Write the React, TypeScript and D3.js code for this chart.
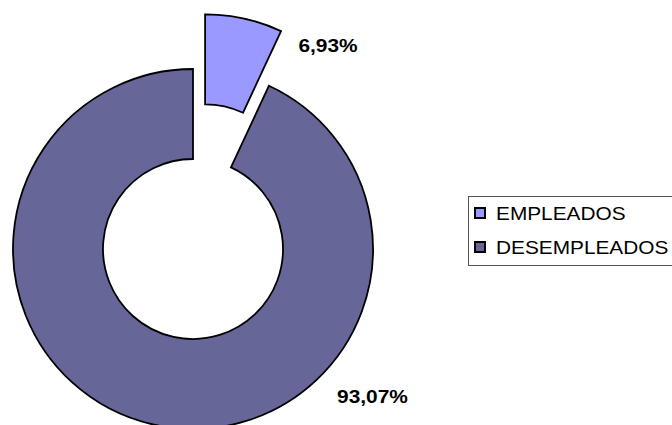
import React, { useEffect, useRef } from "react";
import * as d3 from "d3";

// datos del gráfico
const categories = ["EMPLEADOS", "DESEMPLEADOS"];
const values = [6.93, 93.07];
const labels = ["6,93%", "93,07%"];
const colors = ["#9999FF", "#666699"];

const W = 672;
const H = 425;
const cx = 193;          // centro del anillo
const cy = 249;
const outerR = 180;
const innerR = 90;
const explode = 56;      // desplazamiento de la porción separada

// posición de las etiquetas relativa al centro (colocación "best fit")
const labelOffsets = [[135, -204], [179.5, 147]];

export default function App() {
    const svgRef = useRef<SVGSVGElement | null>(null);

    useEffect(() => {
        const svg = d3.select(svgRef.current);
        svg.selectAll("*").remove();

        const pie = d3.pie<number>().sort(null).value((d) => d);
        const arcs = pie(values);
        const arc = d3.arc<d3.PieArcDatum<number>>().innerRadius(innerR).outerRadius(outerR);

        const g = svg.append("g").attr("transform", `translate(${cx},${cy})`);

        // porciones
        g.selectAll("path.slice")
            .data(arcs)
            .join("path")
            .attr("class", "slice")
            .attr("d", (d) => arc(d))
            .attr("transform", (d, i) => {
                if (i !== 0) return null;
                const mid = (d.startAngle + d.endAngle) / 2;
                return `translate(${Math.sin(mid) * explode},${-Math.cos(mid) * explode})`;
            })
            .attr("fill", (d, i) => colors[i])
            .attr("stroke", "#000")
            .attr("stroke-width", 1.8)
            .attr("stroke-linejoin", "miter");

        // etiquetas de datos
        g.selectAll("text.lbl")
            .data(labels)
            .join("text")
            .attr("class", "lbl")
            .attr("transform", (d, i) => `translate(${labelOffsets[i][0]},${labelOffsets[i][1] + 6.5}) scale(1.13,1)`)
            .attr("text-anchor", "middle")
            .attr("font-family", "'Liberation Sans', Arial, sans-serif")
            .attr("font-weight", "bold")
            .attr("font-size", 18.5)
            .attr("fill", "#000")
            .text((d) => d);

        // leyenda
        const legend = svg.append("g").attr("transform", "translate(468,196)");
        legend.append("rect")
            .attr("x", 0.5).attr("y", 0.5)
            .attr("width", 240).attr("height", 69)
            .attr("fill", "#fff")
            .attr("stroke", "#555")
            .attr("stroke-width", 1);

        const item = legend.selectAll("g.item")
            .data(categories)
            .join("g")
            .attr("class", "item")
            .attr("transform", (d, i) => `translate(7,${12 + i * 34})`);

        item.append("rect")
            .attr("width", 10).attr("height", 10)
            .attr("fill", (d, i) => colors[i])
            .attr("stroke", "#000")
            .attr("stroke-width", 2);

        item.append("text")
            .attr("transform", "translate(21,12) scale(1.19,1)")
            .attr("font-family", "'Liberation Sans', Arial, sans-serif")
            .attr("font-size", 17.5)
            .attr("fill", "#000")
            .text((d) => d);
    }, []);

    return (
        <div style={{ position: "absolute", left: 0, top: 0, width: W, height: H, background: "#fff", overflow: "hidden" }}>
            <svg ref={svgRef} width={W} height={H}></svg>
        </div>
    );
}
